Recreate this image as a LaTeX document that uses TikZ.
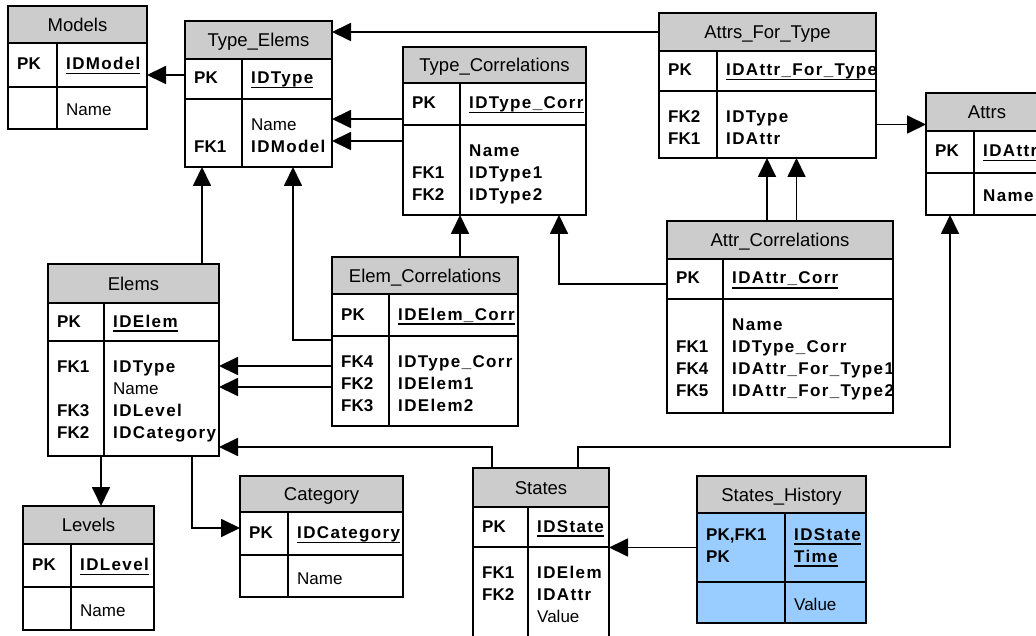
\documentclass[tikz,border=0pt]{standalone}
\usepackage{fontspec}
\setmainfont{Liberation Sans}
\newfontfamily\fieldfam{Liberation Sans}[LetterSpace=8]
\usetikzlibrary{arrows.meta,calc}
\definecolor{hdrgray}{RGB}{204,204,204}
\definecolor{keyblue}{RGB}{153,204,255}

%underlined key field
\newcommand{\idkey}[1]{\setbox0\hbox{#1}\rlap{\rule[-4.5pt]{\wd0}{1.3pt}}\box0}
\newcommand{\regtxt}[1]{{\normalfont #1}}

\tikzset{
  hdr/.style={draw, fill=hdrgray, line width=1.7pt, inner sep=0pt, outer sep=0pt, anchor=north west,
    font=\fontsize{18.5}{22}\selectfont, text height=13.2pt, text depth=0pt},
  cell/.style={draw, fill=white, line width=1.7pt, inner sep=0pt, outer sep=0pt, anchor=north west},
  keyt/.style={anchor=base west, inner sep=0pt, font=\fontsize{17}{22}\selectfont\bfseries},
  fieldt/.style={anchor=base west, inner sep=0pt, font=\fieldfam\fontsize{17}{22}\selectfont\bfseries},
  lines/.style={anchor=north west, align=left},
  fk/.style={line width=1.8pt, -{Triangle[length=19pt,width=18pt]}}
}

% table: name, left, top, right, header bottom, pk bottom, bottom, column, title
\newcommand{\ertable}[9]{%
  \node[hdr, minimum width=#4-#2, minimum height=#5-#3] (#1) at (#2,#3) {#9};
  \node[cell, minimum width=#8-#2, minimum height=#6-#5] (#1-pkk) at (#2,#5) {};
  \node[cell, minimum width=#4-#8, minimum height=#6-#5] (#1-pk) at (#8,#5) {};
  \node[cell, minimum width=#8-#2, minimum height=#7-#6] (#1-fkk) at (#2,#6) {};
  \node[cell, minimum width=#4-#8, minimum height=#7-#6] (#1-fk) at (#8,#6) {};
}
\newcommand{\pkrow}[3]{%
  \node[keyt] (#1-pkt) at ($(#1-pkk.west)+(9,5)$) {#2};
  \node[fieldt] (#1-pkf) at ($(#1-pk.west)+(9,5)$) {\idkey{#3}};
}
\newcommand{\fkrows}[3]{%
  \node[keyt, lines] (#1-fkt) at ($(#1-fkk.north west)+(9,15.6)$) {\strut#2};
  \node[fieldt, lines] (#1-fkf) at ($(#1-fk.north west)+(9,15.6)$) {\strut#3};
}
\newcommand{\onerow}[2]{%
  \node[fieldt] (#1-fkf) at ($(#1-fk.west)+(9,8)$) {#2};
}

\begin{document}
\begin{tikzpicture}[x=1pt,y=-1pt]
\useasboundingbox (0,0) rectangle (1036,636);
\clip (0,0) rectangle (1036,636);

\ertable{models}{8}{6}{147}{43}{87}{129}{57}{Models}
\pkrow{models}{PK}{IDModel}
\onerow{models}{\regtxt{Name}}

\ertable{typeelems}{185}{21}{332}{59}{99}{167}{242}{Type\_Elems}
\pkrow{typeelems}{PK}{IDType}
\fkrows{typeelems}{\\FK1}{\regtxt{Name}\\IDModel}

\ertable{typecorr}{403}{47}{586}{83}{125}{215}{460}{Type\_Correlations}
\pkrow{typecorr}{PK}{IDType\_Corr}
\fkrows{typecorr}{\\FK1\\FK2}{Name\\IDType1\\IDType2}

\ertable{attrsfor}{659}{13}{876}{51}{91}{158}{717}{Attrs\_For\_Type}
\pkrow{attrsfor}{PK}{IDAttr\_For\_Type}
\fkrows{attrsfor}{FK2\\FK1}{IDType\\IDAttr}

\ertable{attrs}{926}{93}{1048}{131}{173}{215}{974}{Attrs}
\pkrow{attrs}{PK}{IDAttr}
\onerow{attrs}{Name}

\ertable{elems}{48}{264}{219}{303}{341}{456}{104}{Elems}
\pkrow{elems}{PK}{IDElem}
\fkrows{elems}{FK1\\\strut\\FK3\\FK2}{IDType\\\regtxt{Name}\\IDLevel\\IDCategory}

\ertable{elemcorr}{332}{257}{518}{294}{336}{426}{389}{Elem\_Correlations}
\pkrow{elemcorr}{PK}{IDElem\_Corr}
\fkrows{elemcorr}{FK4\\FK2\\FK3}{IDType\_Corr\\IDElem1\\IDElem2}

\ertable{attrcorr}{667}{221}{893}{259}{299}{413}{723}{Attr\_Correlations}
\pkrow{attrcorr}{PK}{IDAttr\_Corr}
\fkrows{attrcorr}{\\FK1\\FK4\\FK5}{Name\\IDType\_Corr\\IDAttr\_For\_Type1\\IDAttr\_For\_Type2}

\ertable{levels}{23}{506}{154}{544}{587}{630}{71}{Levels}
\pkrow{levels}{PK}{IDLevel}
\onerow{levels}{\regtxt{Name}}

\ertable{category}{240}{476}{403}{512}{555}{597}{288}{Category}
\pkrow{category}{PK}{IDCategory}
\onerow{category}{\regtxt{Name}}

\ertable{states}{473}{468}{609}{507}{547}{660}{528}{States}
\pkrow{states}{PK}{IDState}
\fkrows{states}{FK1\\FK2}{IDElem\\IDAttr\\\regtxt{Value}}

\begin{scope}[cell/.append style={fill=keyblue}]
\ertable{history}{697}{476}{866}{513}{582}{623}{785}{States\_History}
\end{scope}
\node[keyt, lines] (history-pkt) at ($(history-pkk.north west)+(9,11.6)$) {\strut PK,FK1\\PK};
\node[fieldt, lines] (history-pkf) at ($(history-pk.north west)+(9,11.6)$) {\strut\idkey{IDState}\\\idkey{Time}};
\onerow{history}{\regtxt{Value}}

% connectors
\draw[fk] ($(typeelems-pkk.west)+(0,-4)$) -- ($(models-pk.east)+(0,10)$);
\draw[fk] (attrsfor.west) -- (attrsfor.west -| typeelems.east);
\draw[fk] ($(typecorr-pkk.south west)+(0,-6)$) -- ($(typeelems-fk.east)+(0,-14)$);
\draw[fk] ($(typecorr-pkk.south west)+(0,16)$) -- ($(typeelems-fk.east)+(0,8)$);
\draw[fk] ($(elems.north east)+(-17,0)$) -- ($(typeelems-fkk.south west)+(17,0)$);
\draw[fk] ($(elemcorr-fkk.north west)+(0,4)$) -| ($(typeelems-fk.south)+(6,0)$);
\draw[fk] (elemcorr.north -| typecorr-fk.south west) -- (typecorr-fk.south west);
\draw[fk] ($(attrcorr-pkk.west)+(0,5)$) -| ($(typecorr-fk.south east)+(-27,0)$);
\draw[fk] ($(attrcorr.north)+(-13,0)$) -- ($(attrsfor-fk.south)+(-29.5,0)$);
\draw[fk] (attrcorr.north -| attrsfor-fk.south) -- (attrsfor-fk.south);
\draw[fk] (attrsfor-fk.east) -- (attrsfor-fk.east -| attrs.west);
\draw[fk] ($(elemcorr-fkk.north west)+(0,30)$) -- ($(elems-fk.north east)+(0,25)$);
\draw[fk] ($(elemcorr-fkk.north west)+(0,51)$) -- ($(elems-fk.north east)+(0,46)$);
\coordinate (bus) at ($(elems-fk.south east)+(0,-9)$);
\draw[fk] ($(states.north west)+(19,0)$) |- (bus);
\draw[fk] ($(states.north east)+(-31,0)$) |- (bus -| attrs-fkk.south) -- (attrs-fkk.south);
\draw[fk] ($(elems-fkk.south east)+(-3,0)$) -- ($(levels.north west)+(78,0)$);
\draw[fk] ($(elems-fk.south east)+(-27,0)$) |- ($(category-pkk.north west)+(0,16)$);
\draw[fk] (history-pkk.west) -- (history-pkk.west -| states.east);
\end{tikzpicture}
\end{document}
